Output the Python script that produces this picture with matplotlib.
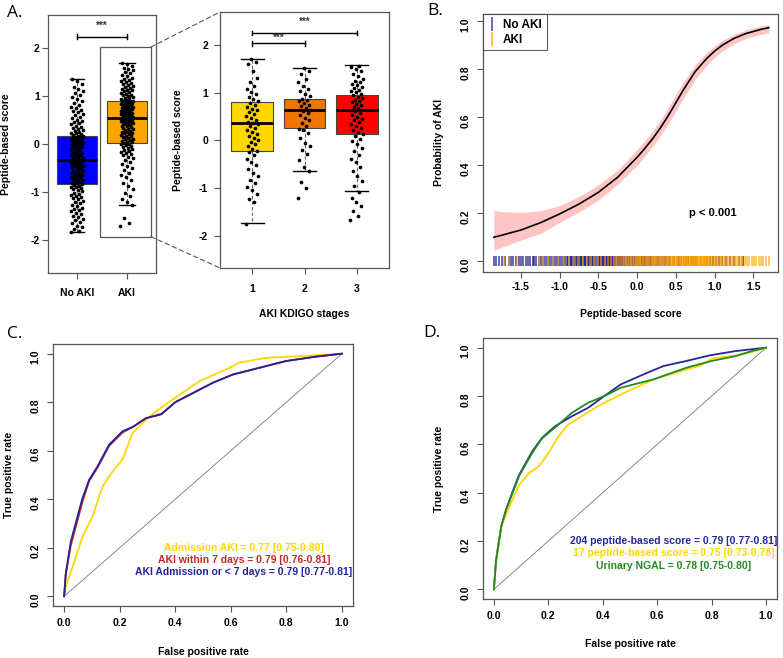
import numpy as np
import matplotlib
matplotlib.use("Agg")
import matplotlib.pyplot as plt
from matplotlib.lines import Line2D
from matplotlib.patches import Rectangle, ConnectionPatch

plt.rcParams["font.family"] = ["Liberation Sans", "DejaVu Sans"]
plt.rcParams["font.weight"] = "bold"
plt.rcParams["axes.unicode_minus"] = False

# ---- data: panel A (peptide-based score by group) ----
groups = ["No AKI", "AKI"]
no_aki_scores = [
    -1.85, -1.82, -1.78, -1.74, -1.71, -1.66, -1.63, -1.60, -1.57, -1.53, -1.50, -1.47, -1.44,
    -1.41, -1.38, -1.35, -1.33, -1.30, -1.27, -1.24, -1.22, -1.19, -1.16, -1.14, -1.11, -1.09,
    -1.06, -1.04, -1.02, -0.99, -0.97, -0.95, -0.93, -0.91, -0.89, -0.87, -0.85,
    -0.84, -0.82, -0.81, -0.79, -0.78, -0.76, -0.75, -0.73, -0.72, -0.70, -0.69, -0.67, -0.66,
    -0.64, -0.63, -0.61, -0.60, -0.58, -0.57, -0.55, -0.54, -0.52, -0.51, -0.49, -0.48, -0.47,
    -0.45, -0.44, -0.43, -0.41, -0.40, -0.39, -0.38, -0.37, -0.36, -0.35, -0.34, -0.33,
    -0.31, -0.30, -0.28, -0.27, -0.25, -0.24, -0.22, -0.21, -0.19, -0.18, -0.16, -0.15, -0.13,
    -0.12, -0.10, -0.09, -0.07, -0.06, -0.04, -0.03, -0.01, 0.00, 0.02, 0.03, 0.05, 0.06, 0.07,
    0.08, 0.09, 0.10, 0.11, 0.12, 0.13, 0.14, 0.15, 0.16, 0.17, 0.18,
    0.20, 0.22, 0.24, 0.26, 0.28, 0.30, 0.32, 0.34, 0.36, 0.38, 0.41, 0.43, 0.46, 0.48, 0.51,
    0.54, 0.57, 0.60, 0.63, 0.66, 0.69, 0.72, 0.75, 0.78, 0.82, 0.86, 0.90, 0.94, 0.98, 1.02,
    1.06, 1.10, 1.15, 1.20, 1.25, 1.31, 1.37,
]
aki_scores = [
    -1.72, -1.65, -1.55, -1.27, -1.22, -1.15, -1.08, -1.02, -0.95, -0.88, -0.82, -0.76, -0.70,
    -0.65, -0.60, -0.55, -0.50, -0.46, -0.42, -0.38, -0.34, -0.30, -0.27, -0.24, -0.21, -0.18,
    -0.16, -0.14, -0.12, -0.10, -0.08, -0.06, -0.04, -0.02, -0.01, 0.01, 0.02,
    0.04, 0.05, 0.07, 0.08, 0.10, 0.11, 0.13, 0.14, 0.16, 0.17, 0.19, 0.20, 0.22, 0.23, 0.25,
    0.26, 0.28, 0.29, 0.31, 0.32, 0.34, 0.35, 0.37, 0.38, 0.40, 0.41, 0.43, 0.44, 0.45, 0.46,
    0.47, 0.48, 0.49, 0.50, 0.51, 0.52, 0.53, 0.55,
    0.56, 0.57, 0.58, 0.59, 0.60, 0.61, 0.62, 0.63, 0.64, 0.65, 0.66, 0.67, 0.68, 0.69, 0.70,
    0.71, 0.72, 0.73, 0.74, 0.75, 0.76, 0.77, 0.78, 0.79, 0.80, 0.81, 0.82, 0.83, 0.84, 0.85,
    0.86, 0.86, 0.87, 0.88, 0.88, 0.89, 0.89, 0.90,
    0.91, 0.93, 0.94, 0.96, 0.97, 0.99, 1.00, 1.02, 1.03, 1.05, 1.07, 1.08, 1.10, 1.12, 1.14,
    1.16, 1.18, 1.20, 1.22, 1.24, 1.26, 1.28, 1.30, 1.32, 1.34, 1.36, 1.39, 1.42, 1.45, 1.48,
    1.51, 1.54, 1.57, 1.60, 1.63, 1.67, 1.70,
]
group_med = [-0.33, 0.55]
group_q1 = [-0.84, 0.02]
group_q3 = [0.17, 0.90]
group_lo = [-1.84, -1.27]
group_hi = [1.37, 1.70]

# ---- data: panel A inset (AKI KDIGO stages) ----
stages = ["1", "2", "3"]
stage1_scores = [
    -1.75, -1.30, -1.22, -1.12, -1.05, -0.98, -0.90, -0.84, -0.75, -0.68, -0.60, -0.52, -0.45,
    -0.38, -0.30, -0.25, -0.22, -0.18, -0.12, -0.08, -0.03, 0.02, 0.06, 0.10, 0.14, 0.18, 0.22,
    0.26, 0.30, 0.34, 0.36, 0.39, 0.43, 0.47, 0.51, 0.55, 0.59, 0.63, 0.67, 0.71, 0.75, 0.79,
    0.83, 0.87, 0.92, 0.97, 1.02, 1.08, 1.14, 1.22, 1.32, 1.45, 1.60, 1.65, 1.71,
]
stage2_scores = [
    -1.20, -1.00, -0.88, -0.65, -0.55, -0.40, -0.28, -0.20, -0.12, -0.05, 0.05, 0.15, 0.22,
    0.25, 0.30, 0.36, 0.42, 0.48, 0.53, 0.58, 0.62, 0.65, 0.68, 0.72, 0.75, 0.78, 0.82, 0.85,
    0.88, 0.93, 0.98, 1.03, 1.08, 1.15, 1.22, 1.30, 1.40, 1.46, 1.52,
]
stage3_scores = [
    -1.68, -1.58, -1.48, -1.38, -1.30, -1.20, -1.08, -0.95, -0.85, -0.75, -0.65, -0.55, -0.46,
    -0.38, -0.30, -0.22, -0.15, -0.08, -0.02, 0.04, 0.09, 0.13, 0.17, 0.22, 0.26, 0.30, 0.34,
    0.38, 0.42, 0.46, 0.50, 0.54, 0.58, 0.62, 0.65, 0.68, 0.71, 0.74, 0.77, 0.80, 0.83, 0.86,
    0.89, 0.92, 0.95, 0.98, 1.01, 1.04, 1.07, 1.10, 1.13, 1.16, 1.19, 1.22, 1.26, 1.30, 1.35,
    1.40, 1.45, 1.50, 1.54, 1.57,
]
stage_med = [0.37, 0.63, 0.63]
stage_q1 = [-0.22, 0.26, 0.14]
stage_q3 = [0.80, 0.87, 0.96]
stage_lo = [-1.73, -0.64, -1.07]
stage_hi = [1.72, 1.53, 1.58]

# ---- data: panel B (fitted probability of AKI) ----
fit_x = [-1.85, -1.75, -1.5, -1.25, -1.0, -0.75, -0.5, -0.25, 0.0, 0.1, 0.2, 0.3,
         0.4, 0.5, 0.6, 0.75, 0.9, 1.0, 1.1, 1.25, 1.4, 1.5, 1.6, 1.7]
fit_prob = [0.100, 0.108, 0.130, 0.160, 0.197, 0.238, 0.287, 0.350, 0.433, 0.470, 0.510, 0.555,
            0.605, 0.660, 0.715, 0.790, 0.845, 0.875, 0.900, 0.928, 0.948, 0.957, 0.966, 0.973]
fit_upper = [0.212, 0.207, 0.203, 0.210, 0.232, 0.270, 0.318, 0.380, 0.465, 0.502, 0.542, 0.588,
             0.638, 0.695, 0.748, 0.818, 0.870, 0.897, 0.920, 0.945, 0.963, 0.972, 0.980, 0.986]
fit_lower = [0.045, 0.058, 0.088, 0.115, 0.162, 0.205, 0.255, 0.320, 0.400, 0.438, 0.478, 0.522,
             0.572, 0.625, 0.680, 0.758, 0.816, 0.849, 0.876, 0.906, 0.927, 0.937, 0.945, 0.952]

# ---- data: panel C ROC curves ----
c_adm_fpr = [0.0, 0.006, 0.03, 0.066, 0.102, 0.138, 0.174, 0.21, 0.246, 0.282, 0.33, 0.40,
             0.487, 0.583, 0.63, 0.727, 0.847, 1.0]
c_adm_tpr = [0.0, 0.04, 0.12, 0.245, 0.328, 0.452, 0.514, 0.563, 0.673, 0.714, 0.762, 0.818,
             0.887, 0.935, 0.963, 0.983, 0.99, 1.0]
c_7d_fpr = [0.0, 0.006, 0.024, 0.05, 0.066, 0.09, 0.12, 0.162, 0.21, 0.25, 0.294, 0.35, 0.40,
            0.535, 0.607, 0.727, 0.80, 0.907, 1.0]
c_7d_tpr = [0.0, 0.09, 0.21, 0.32, 0.39, 0.475, 0.53, 0.62, 0.675, 0.70, 0.734, 0.752, 0.80,
            0.88, 0.914, 0.949, 0.97, 0.988, 1.0]
c_any_fpr = [0.0, 0.006, 0.024, 0.048, 0.066, 0.09, 0.12, 0.162, 0.21, 0.25, 0.294, 0.35, 0.40,
             0.535, 0.607, 0.727, 0.80, 0.907, 1.0]
c_any_tpr = [0.0, 0.094, 0.225, 0.328, 0.404, 0.48, 0.535, 0.625, 0.68, 0.70, 0.734, 0.75, 0.80,
             0.88, 0.914, 0.949, 0.97, 0.988, 1.0]
c_labels = ["Admission AKI = 0.77 [0.75-0.80]",
            "AKI within 7 days = 0.79 [0.76-0.81]",
            "AKI Admission or < 7 days = 0.79 [0.77-0.81]"]

# ---- data: panel D ROC curves ----
d_204_fpr = [0.0, 0.008, 0.027, 0.045, 0.069, 0.093, 0.141, 0.177, 0.225, 0.286, 0.346, 0.406,
             0.466, 0.563, 0.623, 0.707, 0.792, 0.888, 1.0]
d_204_tpr = [0.0, 0.12, 0.26, 0.33, 0.405, 0.474, 0.571, 0.627, 0.675, 0.716, 0.751, 0.80,
             0.848, 0.896, 0.924, 0.945, 0.968, 0.986, 1.0]
d_17_fpr = [0.0, 0.008, 0.027, 0.057, 0.093, 0.129, 0.165, 0.201, 0.237, 0.273, 0.322, 0.382,
            0.466, 0.587, 0.707, 0.755, 0.80, 0.888, 0.948, 1.0]
d_17_tpr = [0.0, 0.12, 0.26, 0.343, 0.433, 0.481, 0.509, 0.564, 0.633, 0.682, 0.716, 0.758,
            0.806, 0.869, 0.91, 0.924, 0.954, 0.968, 0.982, 1.0]
d_ngal_fpr = [0.0, 0.008, 0.027, 0.045, 0.069, 0.093, 0.141, 0.177, 0.225, 0.286, 0.346, 0.406,
              0.466, 0.587, 0.707, 0.80, 0.888, 0.948, 1.0]
d_ngal_tpr = [0.0, 0.12, 0.26, 0.33, 0.40, 0.47, 0.565, 0.625, 0.67, 0.73, 0.772, 0.80, 0.834,
              0.869, 0.917, 0.945, 0.965, 0.986, 1.0]
d_labels = ["204 peptide-based score = 0.79 [0.77-0.81]",
            "17 peptide-based score = 0.75 [0.73-0.78]",
            "Urinary NGAL = 0.78 [0.75-0.80]"]

W, H = 783, 658
FRAME = "#555555"
TICK_FS = 7.5
LABEL_FS = 7.5

fig = plt.figure(figsize=(W / 100, H / 100), dpi=100)


def px_axes(x0, y0, x1, y1):
    return fig.add_axes([x0 / W, 1 - y1 / H, (x1 - x0) / W, (y1 - y0) / H])


def frame(ax, xpad, ypad):
    for sp in ax.spines.values():
        sp.set_color(FRAME)
        sp.set_linewidth(0.9)
    ax.tick_params(colors="black", labelsize=TICK_FS, length=4, width=0.8)
    ax.tick_params(axis="x", pad=xpad, color=FRAME)
    ax.tick_params(axis="y", pad=ypad, color=FRAME)


def place_labels(ax, box, xlabel=None, xlab_y=None, ylabel=None, ylab_x=None):
    x0, y0, x1, y1 = box
    if xlabel:
        ax.set_xlabel(xlabel, fontsize=LABEL_FS, fontweight="bold")
        ax.xaxis.label.set_va("center")
        ax.xaxis.set_label_coords(0.5, (y1 - xlab_y) / (y1 - y0))
    if ylabel:
        ax.set_ylabel(ylabel, fontsize=LABEL_FS, fontweight="bold")
        ax.yaxis.label.set_va("center")
        ax.yaxis.set_label_coords((ylab_x - x0) / (x1 - x0), 0.5)


def jitter(n, width):
    return ((np.arange(n) * 0.6180339887) % 1.0 - 0.5) * 2 * width


def boxes(ax, med, q1, q3, lo, hi, fills, capw, score_lists, jw):
    stats = [dict(med=m, q1=a, q3=b, whislo=l, whishi=h)
             for m, a, b, l, h in zip(med, q1, q3, lo, hi)]
    pos = np.arange(1, len(stats) + 1)
    art = ax.bxp(stats, positions=pos, widths=0.8, patch_artist=True, showfliers=False,
                 capwidths=capw,
                 boxprops=dict(edgecolor="#444444", linewidth=0.8),
                 medianprops=dict(color="black", linewidth=2),
                 whiskerprops=dict(color="#666666", linewidth=0.8, linestyle=(0, (3, 2))),
                 capprops=dict(color="black", linewidth=1))
    for patch, c in zip(art["boxes"], fills):
        patch.set_facecolor(c)
    for p, s in zip(pos, score_lists):
        s = np.asarray(s)
        ax.scatter(p + jitter(len(s), jw), s, s=7, color="black", linewidths=0, zorder=3)


def bracket(ax, x1, x2, y, ty, d=0.05):
    ax.plot([x1, x2], [y, y], color="black", lw=1)
    ax.plot([x1, x1], [y - d, y + d], color="black", lw=1)
    ax.plot([x2, x2], [y - d, y + d], color="black", lw=1)
    ax.text((x1 + x2) / 2, ty, "***", ha="center", va="center", fontsize=7, color="#333333")


# ---------------- Panel A (left) ----------------
box_al = (48, 15, 156, 273)
ax_l = px_axes(*box_al)
boxes(ax_l, group_med, group_q1, group_q3, group_lo, group_hi,
      ["#0000FF", "#FFA500"], 0.3, [no_aki_scores, aki_scores], 0.13)
ax_l.set_xlim(0.42, 2.58)
ax_l.set_ylim(-2.7, 2.7)
ax_l.set_xticks([1, 2])
ax_l.set_xticklabels(groups)
ax_l.set_yticks([-2, -1, 0, 1, 2])
ax_l.set_yticklabels(["-2", "-1", "0", "1", "2"])
frame(ax_l, 7, 2)
place_labels(ax_l, box_al, ylabel="Peptide-based score", ylab_x=6)
bracket(ax_l, 1, 2, 2.25, 2.48)
ax_l.add_patch(Rectangle((1.46, -1.94), 1.02, 3.97, fill=False, edgecolor="#555555", lw=0.9,
                         zorder=4))

# ---------------- Panel A (stages) ----------------
box_ar = (220, 12, 389, 268)
ax_r = px_axes(*box_ar)
boxes(ax_r, stage_med, stage_q1, stage_q3, stage_lo, stage_hi,
      ["#FFD700", "#EE7600", "#FF0000"], 0.44,
      [stage1_scores, stage2_scores, stage3_scores], 0.12)
ax_r.set_xlim(0.38, 3.62)
ax_r.set_ylim(-2.68, 2.7)
ax_r.set_xticks([1, 2, 3])
ax_r.set_xticklabels(stages)
ax_r.set_yticks([-2, -1, 0, 1, 2])
ax_r.set_yticklabels(["-2", "-1", "0", "1", "2"])
frame(ax_r, 7.5, 4.5)
place_labels(ax_r, box_ar, xlabel="AKI KDIGO stages", xlab_y=314,
             ylabel="Peptide-based score", ylab_x=178)
bracket(ax_r, 1, 3, 2.26, 2.5)
bracket(ax_r, 1, 2, 2.04, 2.15)

for ya, yb in [(2.03, 1), (-1.94, 0)]:
    con = ConnectionPatch(xyA=(2.48, ya), coordsA=ax_l.transData, xyB=(0, yb),
                          coordsB=ax_r.transAxes, linestyle=(0, (4, 3)), color="#555555", lw=0.8)
    fig.add_artist(con)

# ---------------- Panel B ----------------
box_b = (483, 14, 778, 272)
ax_b = px_axes(*box_b)
ax_b.fill_between(fit_x, fit_lower, fit_upper, color="#FFC4C4", lw=0)
ax_b.plot(fit_x, fit_prob, color="black", lw=1.2)
ax_b.vlines(no_aki_scores, -0.022, 0.022, color="#000080", alpha=0.7, lw=1.2)
ax_b.vlines(aki_scores, -0.022, 0.022, color="#FFA500", alpha=0.7, lw=1.2)
ax_b.text(0.98, 0.2, "p < 0.001", ha="center", va="center", fontsize=8)
ax_b.set_xlim(-1.99, 1.82)
ax_b.set_ylim(-0.045, 1.03)
bx = [-1.5, -1.0, -0.5, 0.0, 0.5, 1.0, 1.5]
ax_b.set_xticks(bx)
ax_b.set_xticklabels([f"{v:.1f}" for v in bx])
by = [0.0, 0.2, 0.4, 0.6, 0.8, 1.0]
ax_b.set_yticks(by)
ax_b.set_yticklabels([f"{v:.1f}" for v in by])
ax_b.tick_params(axis="y", labelrotation=90)
frame(ax_b, 3.5, 5)
place_labels(ax_b, box_b, xlabel="Peptide-based score", xlab_y=314,
             ylabel="Probability of AKI", ylab_x=439)
handles = [Line2D([], [], color="#3030B0", alpha=0.7, marker="|", ls="None", markersize=10, mew=1.5),
           Line2D([], [], color="#FFA500", alpha=0.7, marker="|", ls="None", markersize=10, mew=1.5)]
leg = ax_b.legend(handles, groups, loc="upper left", bbox_to_anchor=(0, 1), borderaxespad=0,
                  fancybox=False, edgecolor="#333333", handlelength=0.8,
                  handletextpad=0.5, labelspacing=0.25, borderpad=0.4,
                  prop=dict(weight="bold", size=8.5))
leg.get_frame().set_linewidth(0.8)


def roc_axes(box, curves, colors, labels, lab_x, lab_ys, xlab_y, ylab_x, xpad):
    ax = px_axes(*box)
    ax.plot([0, 1], [0, 1], color="#777777", lw=0.6)
    for (fpr, tpr), c in zip(curves, colors):
        ax.plot(fpr, tpr, color=c, lw=1.3)
    ax.set_xlim(-0.04, 1.04)
    ax.set_ylim(-0.04, 1.04)
    t = [0.0, 0.2, 0.4, 0.6, 0.8, 1.0]
    ax.set_xticks(t)
    ax.set_xticklabels([f"{v:.1f}" for v in t])
    ax.set_yticks(t)
    ax.set_yticklabels([f"{v:.1f}" for v in t])
    ax.tick_params(axis="y", labelrotation=90)
    frame(ax, xpad, 5)
    place_labels(ax, box, xlabel="False positive rate", xlab_y=xlab_y,
                 ylabel="True positive rate", ylab_x=ylab_x)
    x0, y0, x1, y1 = box
    for lab, c, ly in zip(labels, colors, lab_ys):
        ax.text((lab_x - x0) / (x1 - x0), (y1 - ly) / (y1 - y0), lab, transform=ax.transAxes,
                ha="center", va="center", color=c, fontsize=7.5)
    return ax


# ---------------- Panel C ----------------
c_colors = ["#FFD700", "#CD2626", "#23239B"]
roc_axes((53, 344, 353, 606),
         [(c_adm_fpr, c_adm_tpr), (c_7d_fpr, c_7d_tpr), (c_any_fpr, c_any_tpr)],
         c_colors, c_labels, 244, [548, 560, 572], 652, 9, 5)

# ---------------- Panel D ----------------
d_colors = ["#26269E", "#FFD700", "#228B22"]
roc_axes((483, 338, 777, 599),
         [(d_204_fpr, d_204_tpr), (d_17_fpr, d_17_tpr), (d_ngal_fpr, d_ngal_tpr)],
         d_colors, d_labels, 674, [541, 553, 566], 644, 439, 4.5)

# panel letters
for lab, x, y in [("A.", 7, 17), ("B.", 427, 15), ("C.", 7, 338), ("D.", 423, 337)]:
    fig.text(x / W, 1 - y / H, lab, fontsize=12.5, fontweight="normal",
             family=["Open Sans", "DejaVu Sans"], va="baseline", ha="left")

fig.savefig("out.png", dpi=100)
